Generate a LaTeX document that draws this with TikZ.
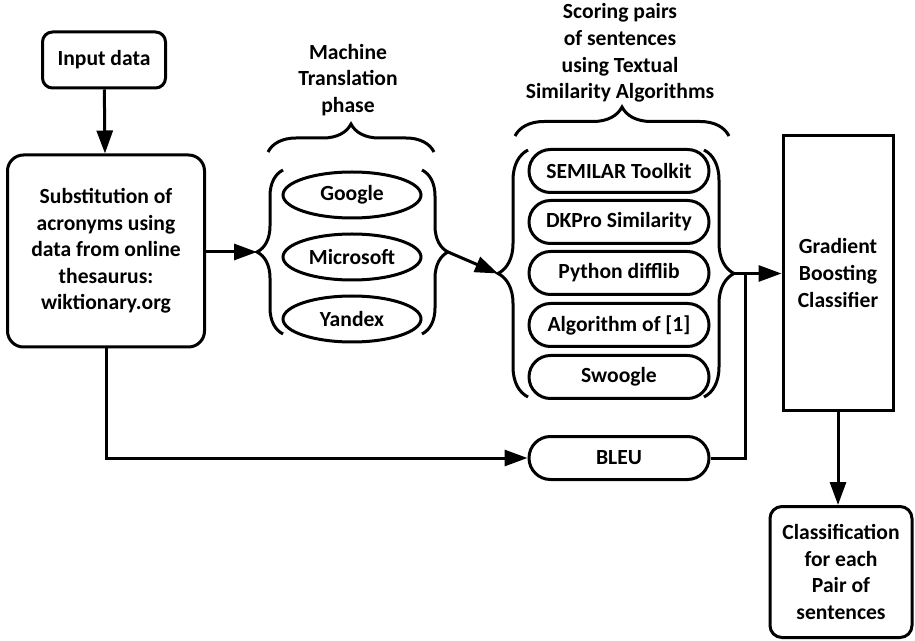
\documentclass[tikz,border=0pt]{standalone}
\usepackage{fontspec}
\setmainfont{Carlito}
\usetikzlibrary{shapes.geometric,shapes.misc,decorations.pathreplacing,arrows.meta}

\begin{document}
\begin{tikzpicture}[x=.5pt,y=-.5pt,line width=1.5pt,
  font=\bfseries\fontsize{10.8}{13.3}\selectfont,
  arr/.style={-{Triangle[length=11.5pt,width=8pt]}},
  box/.style={draw,align=center,rounded corners=#1},box/.default=5pt,
  mtoval/.style={draw,ellipse,minimum width=69pt,minimum height=23pt,inner sep=0pt},
  algpill/.style={draw,rounded rectangle,minimum width=90pt,minimum height=21.5pt,inner sep=0pt},
  brc/.style={decorate,decoration={brace,amplitude=#1}}]
\useasboundingbox (0,0) rectangle (915,641);
% boxes
\node[box,minimum width=61.5pt,minimum height=28pt] (in) at (104,60) {Input data};
\node[box=8pt,minimum width=98.5pt,minimum height=96pt] (sub) at (106,251) {Substitution of\\acronyms using\\data from online\\thesaurus:\\wiktionary.org};
\node[draw,align=center,minimum width=55pt,minimum height=137.5pt] (gbc) at (838,273) {Gradient\\Boosting\\Classifier};
\node[box=6pt,minimum width=71pt,minimum height=65.5pt] (cls) at (841,572) {Classification\\for each\\Pair of\\sentences};
% machine translation
\node[align=center] (mtlab) at (348,80) {Machine\\Translation\\phase};
\node[mtoval] (google) at (352,195) {Google};
\node[mtoval] (microsoft) at (352,257) {Microsoft};
\node[mtoval] (yandex) at (352,319) {Yandex};
\draw[brc=14pt] (268,152) -- (434,152);
\draw[brc=13pt] (283,334) -- (283,170);
\draw[brc=13pt] (422,170) -- (422,334);
\coordinate (mtL) at (257,252);
\coordinate (mtR) at (448,252);
% scoring
\node[align=center] (sclab) at (620,53) {Scoring pairs\\of sentences\\using Textual\\Similarity Algorithms};
\node[algpill] (semilar) at (619,171) {SEMILAR Toolkit};
\node[algpill] (dkpro) at (619,222) {DKPro Similarity};
\node[algpill] (difflib) at (619,273) {Python difflib};
\node[algpill] (alg1) at (619,325) {Algorithm of [1]};
\node[algpill] (swoogle) at (619,377) {Swoogle};
\node[algpill] (bleu) at (619,458) {BLEU};
\draw[brc=14.5pt] (515,136) -- (729,136);
\draw[brc=15pt] (528,397) -- (528,150);
\draw[brc=15pt] (704,150) -- (704,397);
\coordinate (scL) at (498,273.5);
\coordinate (scR) at (734,273.5);
\coordinate (jn) at (745,273.5);
% connectors
\draw[arr] (in) -- (sub);
\draw[arr] (sub.east |- mtL) -- (mtL);
\draw[arr] (mtR) -- (scL);
\draw[arr] (scR) -- (gbc.west |- scR);
\draw (bleu.east) -| (jn);
\draw[arr] (sub.south) |- (bleu.west);
\draw[arr] (gbc.south) -- (gbc.south |- cls.north);
\end{tikzpicture}
\end{document}
